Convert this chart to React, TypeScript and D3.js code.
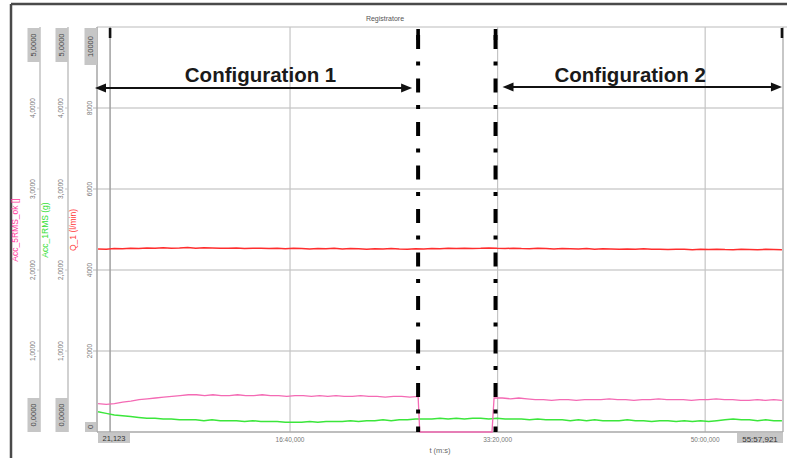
import React from 'react';
import * as d3 from 'd3';

const W = 787;
const H = 458;

// Time axis (seconds) and its labels
const timeTicks = [1000, 2000, 3000];
const timeTickLabels = ['16:40,000', '33:20,000', '50:00,000'];
const cursorStartLabel = '21,123';
const cursorEndLabel = '55:57,921';

// Left axes tick labels
const accTicks = [1, 2, 3, 4];
const accTickLabels = ['1,0000', '2,0000', '3,0000', '4,0000'];
const accMinLabel = '0,0000';
const accMaxLabel = '5,0000';
const flowTicks = [2000, 4000, 6000, 8000];
const flowTickLabels = ['2000', '4000', '6000', '8000'];
const flowMinLabel = '0';
const flowMaxLabel = '10000';

// Event times (s)
const tRecStart = 75;
const tConfig1End = 1617;
const tPinkOff = 1625;
const tPinkOn = 1973;
const tConfig2Start = 1990;
const tPinkB = 1983;
const tRecEnd = 3370;
const tCursorA = 133;
const tCursorB = 3370;

// Acc_5RMS_ok [] — configuration 1, stopped interval, configuration 2
const pinkConfig1 = [0.35, 0.34, 0.35, 0.37, 0.38, 0.40, 0.41, 0.42, 0.43, 0.44, 0.45, 0.46, 0.46, 0.45, 0.46, 0.45, 0.45, 0.46, 0.45, 0.45, 0.46, 0.45, 0.45, 0.44, 0.45, 0.45, 0.44, 0.45, 0.44, 0.45, 0.44, 0.44, 0.45, 0.44, 0.44, 0.43, 0.44, 0.44, 0.43, 0.44];
const pinkStopped = [0, 0];
const pinkConfig2 = [0.42, 0.42, 0.41, 0.42, 0.41, 0.40, 0.40, 0.39, 0.40, 0.40, 0.39, 0.40, 0.40, 0.40, 0.41, 0.40, 0.40, 0.39, 0.40, 0.40, 0.41, 0.40, 0.40, 0.40, 0.39, 0.40, 0.40, 0.41, 0.40, 0.40, 0.39, 0.39, 0.40, 0.39, 0.40, 0.39];

// Acc_1RMS (g)
const greenValues = [0.25, 0.23, 0.21, 0.20, 0.19, 0.18, 0.17, 0.17, 0.16, 0.16, 0.15, 0.15, 0.15, 0.14, 0.15, 0.14, 0.14, 0.14, 0.13, 0.14, 0.13, 0.13, 0.13, 0.12, 0.12, 0.12, 0.13, 0.12, 0.13, 0.13, 0.13, 0.14, 0.13, 0.14, 0.14, 0.15, 0.14, 0.15, 0.15, 0.16, 0.16, 0.16, 0.17, 0.16, 0.17, 0.16, 0.17, 0.17, 0.16, 0.17, 0.16, 0.16, 0.16, 0.15, 0.16, 0.15, 0.15, 0.15, 0.14, 0.15, 0.14, 0.15, 0.14, 0.14, 0.14, 0.15, 0.14, 0.14, 0.13, 0.14, 0.14, 0.13, 0.14, 0.13, 0.14, 0.13, 0.14, 0.15, 0.16, 0.15, 0.15, 0.14, 0.15, 0.14, 0.14];

// Q_1 (l/min)
const redValues = [4520, 4510, 4530, 4525, 4540, 4530, 4545, 4535, 4550, 4540, 4545, 4555, 4540, 4550, 4545, 4540, 4535, 4545, 4530, 4540, 4535, 4530, 4540, 4525, 4535, 4530, 4520, 4530, 4525, 4535, 4520, 4530, 4525, 4515, 4525, 4520, 4530, 4520, 4515, 4525, 4520, 4530, 4525, 4535, 4530, 4540, 4530, 4535, 4545, 4535, 4530, 4540, 4530, 4525, 4535, 4530, 4520, 4530, 4525, 4520, 4530, 4515, 4525, 4520, 4510, 4520, 4515, 4525, 4510, 4515, 4505, 4515, 4510, 4500, 4510, 4505, 4515, 4505, 4500, 4510, 4505, 4500, 4510, 4505, 4500];

type Pt = { t: number; v: number };
const sampled = (vals: number[], t0: number, t1: number): Pt[] =>
  vals.map((v, i) => ({ t: t0 + ((t1 - t0) * i) / Math.max(1, vals.length - 1), v }));

const FONT = '"Liberation Sans", Arial, sans-serif';

const PLOT = { left: 97, right: 783, top: 27, bottom: 432 };

export default function App() {
  const x = d3.scaleLinear().domain([70, 3375]).range([PLOT.left, PLOT.right]);
  const yAcc = d3.scaleLinear().domain([0, 5]).range([PLOT.bottom, PLOT.top]);
  const yFlow = d3.scaleLinear().domain([0, 10000]).range([PLOT.bottom, PLOT.top]);

  const pinkPts = [
    ...sampled(pinkConfig1, tRecStart, tConfig1End),
    ...sampled(pinkStopped, tPinkOff, tPinkOn),
    ...sampled(pinkConfig2, tPinkB, tRecEnd),
  ];
  const greenPts = sampled(greenValues, tRecStart, tRecEnd);
  const redPts = sampled(redValues, tRecStart, tRecEnd);

  const accLine = d3.line<Pt>().x((d) => x(d.t)).y((d) => yAcc(d.v));
  const flowLine = d3.line<Pt>().x((d) => x(d.t)).y((d) => yFlow(d.v));

  const axisXs = [40, 68, PLOT.left];

  const rotText = (cx: number, cy: number, txt: string, size: number, fill: string, weight = 'normal') => (
    <text
      transform={`translate(${cx},${cy}) rotate(-90)`}
      textAnchor="middle"
      dominantBaseline="central"
      fontSize={size}
      fill={fill}
      fontWeight={weight}
      fontFamily={FONT}
    >
      {txt}
    </text>
  );

  const arrow = (x1: number, x2: number, y: number) => (
    <g>
      <line x1={x1 + 8} x2={x2 - 8} y1={y} y2={y} stroke="#111" strokeWidth={2} />
      <polygon points={`${x1},${y} ${x1 + 11},${y - 4.5} ${x1 + 11},${y + 4.5}`} fill="#111" />
      <polygon points={`${x2},${y} ${x2 - 11},${y - 4.5} ${x2 - 11},${y + 4.5}`} fill="#111" />
    </g>
  );

  const dashX = [x(tConfig1End), x(tConfig2Start)];
  const a1 = [PLOT.left - 2, dashX[0] - 6];
  const a2 = [dashX[1] + 7, x(tCursorB)];

  return (
    <svg
      width={W}
      height={H}
      style={{ position: 'absolute', left: 0, top: 0, background: '#fff' }}
      fontFamily={FONT}
    >
      <rect width={W} height={H} fill="#fff" />
      {/* outer frame */}
      <line x1={11} x2={W} y1={4} y2={4} stroke="#4a4a4a" strokeWidth={2.5} />
      <line x1={11} x2={11} y1={4} y2={H} stroke="#4a4a4a" strokeWidth={2.5} />
      <text x={385} y={21} fontSize={7} fill="#555" textAnchor="middle">Registratore</text>
      <line x1={PLOT.left} x2={W} y1={PLOT.top} y2={PLOT.top} stroke="#d2d2d2" strokeWidth={1.5} />

      {/* grid */}
      {flowTicks.map((v) => (
        <line key={'hg' + v} x1={PLOT.left - 4} x2={PLOT.right} y1={yFlow(v)} y2={yFlow(v)} stroke="#cfcfcf" strokeWidth={1.5} />
      ))}
      {timeTicks.map((t) => (
        <line key={'vg' + t} x1={x(t)} x2={x(t)} y1={PLOT.top} y2={PLOT.bottom} stroke="#c4c4c4" strokeWidth={1.2} />
      ))}

      {/* axes lines */}
      {axisXs.map((ax, i) => (
        <line key={'ax' + i} x1={ax} x2={ax} y1={PLOT.top} y2={PLOT.bottom} stroke={i === 2 ? '#a6a6a6' : '#c2c2c2'} strokeWidth={1.5} />
      ))}
      <line x1={PLOT.right} x2={PLOT.right} y1={PLOT.top} y2={PLOT.bottom} stroke="#b4b4b4" strokeWidth={1.5} />
      <line x1={PLOT.left} x2={PLOT.right} y1={PLOT.bottom} y2={PLOT.bottom} stroke="#a8a8a8" strokeWidth={1.5} />

      {/* cursors */}
      <line x1={x(tCursorA)} x2={x(tCursorA)} y1={PLOT.top} y2={PLOT.bottom} stroke="#a0a0a0" strokeWidth={1.5} />
      {[tCursorA, tCursorB].map((t) => (
        <rect key={'cm' + t} x={x(t) - 1.3} y={PLOT.top + 1} width={2.6} height={10} fill="#111" />
      ))}

      {/* acceleration axis ticks (two axes) */}
      {[40, 68].map((ax) => (
        <g key={'acc' + ax}>
          {accTicks.map((v, i) => (
            <g key={v}>
              <line x1={ax - 3} x2={ax} y1={yAcc(v)} y2={yAcc(v)} stroke="#c8c8c8" strokeWidth={1} />
              {rotText(ax - 8, yAcc(v), accTickLabels[i], 6.5, '#777')}
            </g>
          ))}
          <rect x={ax - 12.5} y={PLOT.top + 1} width={12.5} height={34} fill="#c6c6c6" />
          {rotText(ax - 6.3, PLOT.top + 18, accMaxLabel, 7.5, '#444')}
          <rect x={ax - 12.5} y={398} width={12.5} height={34} fill="#c6c6c6" />
          {rotText(ax - 6.3, 415, accMinLabel, 7.5, '#444')}
        </g>
      ))}

      {/* flow axis ticks */}
      {flowTicks.map((v, i) => (
        <g key={'fl' + v}>{rotText(PLOT.left - 8, yFlow(v), flowTickLabels[i], 6.5, '#777')}</g>
      ))}
      <rect x={PLOT.left - 12.5} y={PLOT.top + 1} width={12.5} height={37} fill="#c6c6c6" />
      {rotText(PLOT.left - 6.3, PLOT.top + 19.5, flowMaxLabel, 7.5, '#444')}
      <rect x={PLOT.left - 12} y={422} width={11} height={10} fill="#c6c6c6" />
      {rotText(PLOT.left - 6.5, 427, flowMinLabel, 7.5, '#444')}

      {/* axis titles */}
      {rotText(15, 230, 'Acc_5RMS_ok []', 8.5, '#ff3c9c')}
      {rotText(45, 230, 'Acc_1RMS (g)', 8.5, '#33e033')}
      {rotText(73, 230, 'Q_1 (l/min)', 8.5, '#ff3b3b')}

      {/* time axis */}
      {timeTicks.map((t, i) => (
        <text key={'tl' + t} x={x(t)} y={442} fontSize={6.5} fill="#777" textAnchor="middle">{timeTickLabels[i]}</text>
      ))}
      <rect x={98} y={433} width={32} height={10} fill="#c6c6c6" />
      <text x={114} y={441} fontSize={7.5} fill="#333" textAnchor="middle">{cursorStartLabel}</text>
      <rect x={737} y={433} width={46} height={10} fill="#c6c6c6" />
      <text x={760} y={441.5} fontSize={8} fill="#333" textAnchor="middle">{cursorEndLabel}</text>
      <text x={440} y={453} fontSize={7.5} fill="#666" textAnchor="middle">t (m:s)</text>

      {/* series */}
      <path d={flowLine(redPts) ?? ''} fill="none" stroke="#ff2d2d" strokeWidth={1.5} />
      <path d={accLine(greenPts) ?? ''} fill="none" stroke="#3be63b" strokeWidth={1.5} />
      <path d={accLine(pinkPts) ?? ''} fill="none" stroke="#f46ab4" strokeWidth={1.3} />

      {/* configuration boundaries */}
      {dashX.map((dx, i) => (
        <g key={'dl' + i}>
          <line
            x1={dx}
            x2={dx}
            y1={PLOT.top + 1}
            y2={PLOT.bottom}
            stroke="#000"
            strokeWidth={4}
            strokeDasharray="14 12.5 4 13"
            strokeDashoffset={36.5}
          />
          <rect x={dx - 1.8} y={PLOT.top + 2} width={3.6} height={11} fill="#000" />
        </g>
      ))}

      {/* configuration annotations */}
      {arrow(a1[0], a1[1], 88)}
      {arrow(a2[0], a2[1], 87)}
      <text x={(a1[0] + a1[1]) / 2 + 7} y={81.5} fontSize={20.5} fontWeight="bold" fill="#1a1a1a" textAnchor="middle">Configuration 1</text>
      <text x={(a2[0] + a2[1]) / 2 - 12} y={81.5} fontSize={20.5} fontWeight="bold" fill="#1a1a1a" textAnchor="middle">Configuration 2</text>
    </svg>
  );
}
